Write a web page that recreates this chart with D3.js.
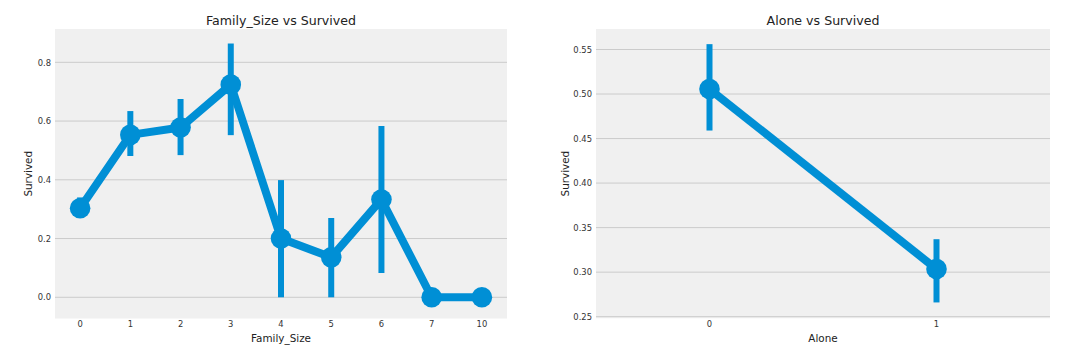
<!DOCTYPE html>
<html>
<head>
<meta charset="utf-8">
<script src="https://cdn.jsdelivr.net/npm/d3@7"></script>
<style>
  body { margin: 0; background: #fff; }
  text { font-family: "DejaVu Sans", sans-serif; }
</style>
</head>
<body>
<div class="content"></div>
<script>
const SVG_W = 1070;
const SVG_H = 361;

// Family_Size vs Survived
const familySizes = ["0", "1", "2", "3", "4", "5", "6", "7", "10"];
const familySurvived = [0.303, 0.553, 0.578, 0.724, 0.200, 0.136, 0.333, 0.0, 0.0];
const familyLow = [0.270, 0.481, 0.484, 0.552, 0.0, 0.0, 0.083, 0.0, 0.0];
const familyHigh = [0.340, 0.634, 0.675, 0.864, 0.399, 0.270, 0.583, 0.0, 0.0];
const familyTicks = [0.0, 0.2, 0.4, 0.6, 0.8];
const familyYDomain = [-0.0722, 0.9134];

// Alone vs Survived
const aloneCats = ["0", "1"];
const aloneSurvived = [0.5056, 0.3035];
const aloneLow = [0.459, 0.266];
const aloneHigh = [0.556, 0.337];
const aloneTicks = [0.25, 0.30, 0.35, 0.40, 0.45, 0.50, 0.55];
const aloneYDomain = [0.2482, 0.573];

const BLUE = "#008fd5";

const svg = d3.select(".content").append("svg")
    .attr("width", SVG_W).attr("height", SVG_H);
svg.append("rect").attr("width", SVG_W).attr("height", SVG_H).attr("fill", "#fff");

function drawPanel(opts){
    const g = svg.append("g");
    const x = d3.scaleBand().domain(opts.cats).range([opts.left, opts.right]).padding(0);
    const y = d3.scaleLinear().domain(opts.yDomain).range([opts.bottom, opts.top]);
    const cx = c => x(c) + x.bandwidth() / 2;

    // background
    g.append("rect")
        .attr("x", opts.left).attr("y", opts.top)
        .attr("width", opts.right - opts.left).attr("height", opts.bottom - opts.top)
        .attr("fill", "#f0f0f0");

    // grid
    g.append("g").selectAll("line")
        .data(opts.ticks.filter(t => y(t) < opts.bottom - 1))
        .join("line")
        .attr("x1", opts.left).attr("x2", opts.right)
        .attr("y1", d => y(d)).attr("y2", d => y(d))
        .attr("stroke", "#cbcbcb").attr("stroke-width", 1);

    // y axis
    const ya = g.append("g").attr("transform", `translate(${opts.left},0)`)
        .call(d3.axisLeft(y).tickValues(opts.ticks).tickFormat(d3.format(opts.fmt)).tickSize(0).tickPadding(4));
    ya.select(".domain").remove();
    ya.selectAll("text").attr("font-size", 8.4).attr("fill", "#333").style("font-family", "DejaVu Sans");

    // x axis
    const xa = g.append("g").attr("transform", `translate(0,${opts.bottom})`)
        .call(d3.axisBottom(x).tickSize(0).tickPadding(3));
    xa.select(".domain").remove();
    xa.selectAll("text").attr("font-size", 8.4).attr("fill", "#333").style("font-family", "DejaVu Sans");

    // labels
    g.append("text")
        .attr("x", (opts.left + opts.right) / 2).attr("y", 25)
        .attr("text-anchor", "middle").attr("font-size", 12.6).attr("fill", "#222")
        .text(opts.title);
    g.append("text")
        .attr("x", (opts.left + opts.right) / 2).attr("y", 342)
        .attr("text-anchor", "middle").attr("font-size", 10.4).attr("fill", "#222")
        .text(opts.xlabel);
    g.append("text")
        .attr("transform", `translate(${opts.ylabelX},${(opts.top + opts.bottom) / 2}) rotate(-90)`)
        .attr("text-anchor", "middle").attr("font-size", 10.4).attr("fill", "#222")
        .text("Survived");

    const data = opts.cats.map((c, i) => ({c: c, v: opts.vals[i], lo: opts.lo[i], hi: opts.hi[i]}));

    // error bars
    g.append("g").selectAll("line")
        .data(data.filter(d => d.hi > d.lo))
        .join("line")
        .attr("x1", d => cx(d.c)).attr("x2", d => cx(d.c))
        .attr("y1", d => y(d.lo)).attr("y2", d => y(d.hi))
        .attr("stroke", BLUE).attr("stroke-width", 6);

    // connecting line
    g.append("path")
        .datum(data)
        .attr("d", d3.line().x(d => cx(d.c)).y(d => y(d.v)))
        .attr("fill", "none").attr("stroke", BLUE).attr("stroke-width", 8)
        .attr("stroke-linejoin", "round");

    // points
    g.append("g").selectAll("circle")
        .data(data)
        .join("circle")
        .attr("cx", d => cx(d.c)).attr("cy", d => y(d.v))
        .attr("r", 10.3).attr("fill", BLUE);
}

drawPanel({
    cats: familySizes, vals: familySurvived, lo: familyLow, hi: familyHigh,
    ticks: familyTicks, yDomain: familyYDomain, fmt: ".1f",
    left: 55, right: 507, top: 29, bottom: 318.5, ylabelX: 32,
    title: "Family_Size vs Survived", xlabel: "Family_Size"
});

drawPanel({
    cats: aloneCats, vals: aloneSurvived, lo: aloneLow, hi: aloneHigh,
    ticks: aloneTicks, yDomain: aloneYDomain, fmt: ".2f",
    left: 596, right: 1050, top: 29, bottom: 318.3, ylabelX: 568.5,
    title: "Alone vs Survived", xlabel: "Alone"
});
</script>
</body>
</html>
